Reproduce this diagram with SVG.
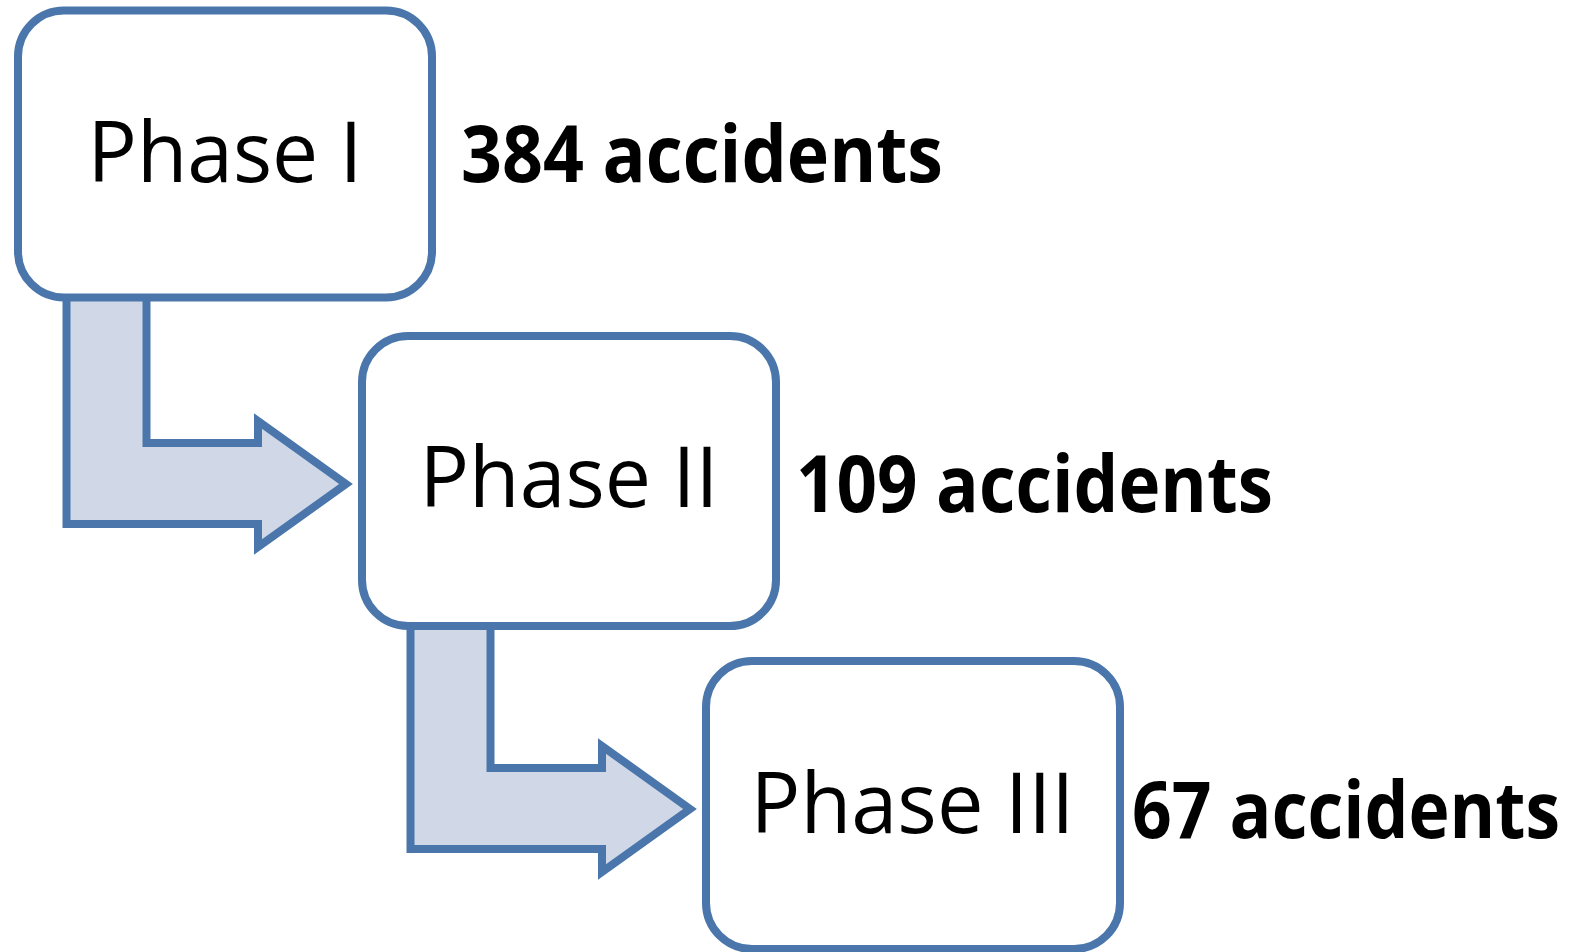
<svg xmlns="http://www.w3.org/2000/svg" width="1582" height="952" viewBox="0 0 1582 952">
  <defs>
    <style>
      .box { fill: #FFFFFF; stroke: #4A76AB; stroke-width: 8; }
      .arrow { fill: #D0D8E7; stroke: #4A76AB; stroke-width: 8; stroke-linejoin: miter; }
      .phase { font-family: "Open Sans", "Noto Sans", "Liberation Sans", sans-serif; font-size: 85px; fill: #000000; text-anchor: middle; }
      .count { font-family: "Open Sans", "Noto Sans", "Liberation Sans", sans-serif; font-size: 78px; font-weight: bold; fill: #000000; }
    </style>
    <path id="bentArrow" d="M 66.5 292 L 146.5 292 L 146.5 443 L 258 443 L 258 421 L 346 484 L 258 547 L 258 524 L 66.5 524 Z"/>
  </defs>
  <rect width="1582" height="952" fill="#FFFFFF"/>
  <g id="connectors">
    <use href="#bentArrow" class="arrow"/>
    <use href="#bentArrow" class="arrow" transform="translate(344 325)"/>
  </g>
  <g id="phase1">
    <rect class="box" x="18" y="10.5" width="414" height="287" rx="46" ry="46"/>
    <text class="phase" x="225" y="182" textLength="275" lengthAdjust="spacingAndGlyphs">Phase I</text>
  </g>
  <g id="phase2">
    <rect class="box" x="362" y="336" width="414" height="290" rx="46" ry="46"/>
    <text class="phase" x="569" y="507" textLength="299" lengthAdjust="spacingAndGlyphs">Phase II</text>
  </g>
  <g id="phase3">
    <rect class="box" x="706" y="661" width="414" height="288" rx="46" ry="46"/>
    <text class="phase" x="912.5" y="833" textLength="324" lengthAdjust="spacingAndGlyphs">Phase III</text>
  </g>
  <g id="count1">
    <text class="count" x="461" y="182" textLength="482" lengthAdjust="spacingAndGlyphs">384 accidents</text>
  </g>
  <g id="count2">
    <text class="count" x="796" y="512" textLength="477" lengthAdjust="spacingAndGlyphs">109 accidents</text>
  </g>
  <g id="count3">
    <text class="count" x="1132" y="838" textLength="428" lengthAdjust="spacingAndGlyphs">67 accidents</text>
  </g>
</svg>
